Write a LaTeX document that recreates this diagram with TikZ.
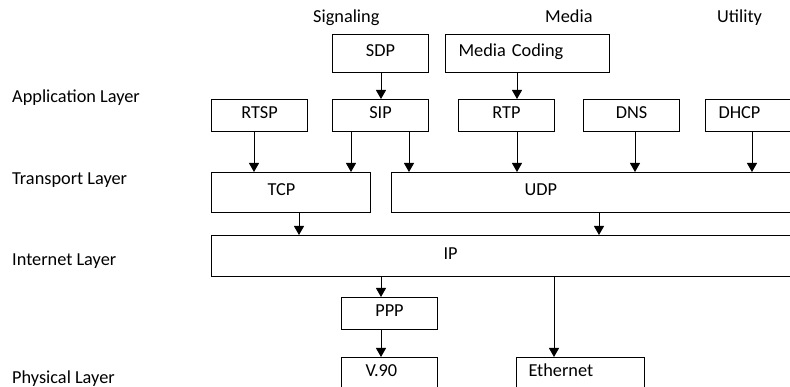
\documentclass[tikz,border=0pt]{standalone}
\usepackage{fontspec}
\setmainfont{Carlito}
\usetikzlibrary{arrows.meta}
\newcommand{\fsize}{\fontsize{18.3}{22}\selectfont}
\newcommand{\drop}[3]{%
    \draw[flow] ([xshift=#3]#1.south west) -- ([xshift=#3]#1.south west |- #2.north);
}

\begin{document}
\begin{tikzpicture}[x=1pt,y=-1pt,>={Triangle[length=9pt,width=10pt]},
    layer/.style={anchor=base west,font=\fsize,inner sep=0pt},
    box/.style={draw,line width=1pt,anchor=north west,inner sep=0pt,
        font=\fsize,text height=12pt,text depth=5pt},
    lbox/.style 2 args={box,inner xsep=#1,text width=#2,align=left},
    flow/.style={->,line width=1pt}]

\clip (0,0) rectangle (790,387);

% column titles
\node[layer] (sig) at (313,23) {Signaling};
\node[layer] (med) at (545,23) {Media};
\node[layer] (utl) at (717,23) {Utility};

% layer titles
\node[layer] (app)  at (12,103) {Application Layer};
\node[layer] (trn)  at (12,185) {Transport Layer};
\node[layer] (inet) at (12,266) {Internet Layer};
\node[layer] (phy)  at (12,384) {Physical Layer};

% application layer
\node[box,minimum width=96pt,minimum height=38pt] (sdp) at (332,34) {SDP};
\node[lbox={13pt}{138pt},minimum height=38pt] (coding) at (445,34) {Media Coding};
\foreach \name/\txt/\xx in {rtsp/RTSP/211, sip/SIP/332, rtp/RTP/458, dns/DNS/583}
    \node[box,minimum width=96pt,minimum height=32pt] (\name) at (\xx,99) {\txt};
\node[lbox={13pt}{79pt},minimum height=32pt] (dhcp) at (705,99) {DHCP};

% transport layer
\node[lbox={56pt}{47pt},minimum height=40pt] (tcp) at (211,172) {TCP};
\node[lbox={133pt}{153pt},minimum height=40pt] (udp) at (391,172) {UDP};

% internet layer
\node[lbox={232pt}{135pt},minimum height=41pt] (ip) at (211,235) {IP};

% link and physical layer
\node[box,minimum width=96pt,minimum height=32pt] (ppp) at (341,297) {PPP};
\node[lbox={24pt}{48pt},minimum height=32pt] (v90) at (341,357) {V.90};
\node[lbox={12pt}{104pt},minimum height=32pt] (eth) at (516,357) {Ethernet};

% connections
\foreach \a/\b/\dx in {sdp/sip/49, coding/rtp/72, rtsp/tcp/43, sip/tcp/19,
        sip/udp/77, rtp/udp/59, dns/udp/52, dhcp/udp/47, tcp/ip/88,
        udp/ip/208, ip/ppp/170, ppp/v90/40, ip/eth/343}
    \drop{\a}{\b}{\dx pt};

\end{tikzpicture}
\end{document}
